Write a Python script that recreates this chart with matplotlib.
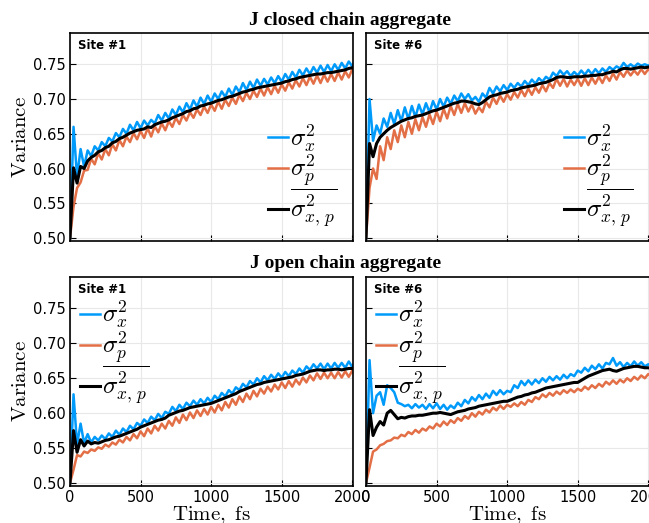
'''
Variance of x, p and mixed quadratures for J aggregates (closed / open chain)
'''

import matplotlib
matplotlib.use('Agg')
import matplotlib.pyplot as plt

plt.rcParams['mathtext.fontset'] = 'cm'

# time axis, fs (step 25 fs)
time_fs = list(range(0, 2026, 25))

# J closed chain, site 1
closed_s1_x = [
    0.500, 0.660, 0.588, 0.628, 0.603, 0.626, 0.618, 0.632, 0.626, 0.638,
    0.632, 0.644, 0.639, 0.651, 0.645, 0.657, 0.650, 0.663, 0.655, 0.667,
    0.658, 0.669, 0.662, 0.670, 0.665, 0.677, 0.669, 0.680, 0.672, 0.685,
    0.677, 0.689, 0.681, 0.694, 0.685, 0.698, 0.689, 0.702, 0.693, 0.705,
    0.696, 0.708, 0.700, 0.711, 0.703, 0.715, 0.706, 0.718, 0.710, 0.723,
    0.713, 0.725, 0.716, 0.728, 0.719, 0.729, 0.721, 0.731, 0.723, 0.733,
    0.725, 0.736, 0.728, 0.739, 0.731, 0.742, 0.734, 0.744, 0.736, 0.746,
    0.738, 0.748, 0.739, 0.749, 0.740, 0.750, 0.742, 0.752, 0.744, 0.754,
    0.747, 0.758]
closed_s1_p = [
    0.500, 0.545, 0.572, 0.580, 0.597, 0.598, 0.614, 0.606, 0.622, 0.613,
    0.628, 0.619, 0.635, 0.626, 0.641, 0.632, 0.646, 0.638, 0.651, 0.642,
    0.654, 0.644, 0.658, 0.646, 0.661, 0.652, 0.665, 0.655, 0.668, 0.660,
    0.673, 0.664, 0.677, 0.669, 0.681, 0.673, 0.685, 0.677, 0.689, 0.680,
    0.692, 0.683, 0.696, 0.686, 0.699, 0.690, 0.702, 0.693, 0.706, 0.697,
    0.709, 0.700, 0.712, 0.703, 0.715, 0.705, 0.717, 0.707, 0.719, 0.709,
    0.721, 0.712, 0.724, 0.715, 0.727, 0.718, 0.730, 0.720, 0.732, 0.722,
    0.734, 0.723, 0.735, 0.725, 0.736, 0.726, 0.738, 0.728, 0.740, 0.731,
    0.743, 0.734]
closed_s1_xp = [
    0.500, 0.601, 0.579, 0.603, 0.600, 0.611, 0.616, 0.619, 0.624, 0.626,
    0.630, 0.632, 0.637, 0.639, 0.643, 0.645, 0.648, 0.651, 0.653, 0.655,
    0.656, 0.657, 0.660, 0.659, 0.663, 0.665, 0.667, 0.668, 0.670, 0.673,
    0.675, 0.677, 0.679, 0.682, 0.683, 0.686, 0.687, 0.690, 0.691, 0.693,
    0.694, 0.696, 0.698, 0.699, 0.701, 0.703, 0.704, 0.706, 0.708, 0.710,
    0.711, 0.713, 0.714, 0.716, 0.717, 0.718, 0.719, 0.720, 0.721, 0.722,
    0.723, 0.725, 0.726, 0.728, 0.729, 0.731, 0.732, 0.733, 0.734, 0.735,
    0.736, 0.736, 0.737, 0.738, 0.738, 0.739, 0.740, 0.741, 0.742, 0.744,
    0.745, 0.746]

# J closed chain, site 6
closed_s6_x = [
    0.500, 0.700, 0.640, 0.662, 0.650, 0.672, 0.660, 0.680, 0.664, 0.684,
    0.668, 0.688, 0.671, 0.690, 0.674, 0.692, 0.678, 0.694, 0.681, 0.697,
    0.685, 0.700, 0.689, 0.702, 0.693, 0.705, 0.697, 0.708, 0.700, 0.707,
    0.698, 0.703, 0.696, 0.708, 0.702, 0.716, 0.708, 0.718, 0.711, 0.720,
    0.713, 0.722, 0.716, 0.723, 0.718, 0.726, 0.720, 0.728, 0.722, 0.730,
    0.725, 0.732, 0.728, 0.738, 0.733, 0.741, 0.735, 0.740, 0.733, 0.739,
    0.734, 0.741, 0.735, 0.742, 0.736, 0.743, 0.737, 0.744, 0.739, 0.746,
    0.742, 0.747, 0.744, 0.752, 0.746, 0.750, 0.746, 0.751, 0.748, 0.750,
    0.748, 0.751]
closed_s6_p = [
    0.500, 0.572, 0.600, 0.585, 0.632, 0.612, 0.645, 0.628, 0.655, 0.638,
    0.662, 0.645, 0.667, 0.650, 0.671, 0.655, 0.674, 0.660, 0.678, 0.664,
    0.682, 0.668, 0.686, 0.672, 0.690, 0.677, 0.693, 0.680, 0.694, 0.682,
    0.692, 0.679, 0.688, 0.681, 0.696, 0.688, 0.702, 0.693, 0.705, 0.696,
    0.707, 0.699, 0.710, 0.702, 0.713, 0.704, 0.715, 0.706, 0.717, 0.709,
    0.720, 0.711, 0.723, 0.716, 0.729, 0.719, 0.729, 0.718, 0.728, 0.720,
    0.729, 0.719, 0.730, 0.720, 0.731, 0.722, 0.732, 0.723, 0.734, 0.726,
    0.737, 0.728, 0.739, 0.732, 0.741, 0.734, 0.741, 0.735, 0.743, 0.736,
    0.743, 0.738]
closed_s6_xp = [
    0.500, 0.636, 0.617, 0.636, 0.645, 0.650, 0.655, 0.659, 0.662, 0.665,
    0.668, 0.670, 0.672, 0.673, 0.675, 0.676, 0.677, 0.679, 0.681, 0.683,
    0.684, 0.686, 0.688, 0.690, 0.692, 0.694, 0.695, 0.697, 0.697, 0.696,
    0.695, 0.693, 0.692, 0.695, 0.699, 0.703, 0.705, 0.706, 0.708, 0.709,
    0.710, 0.712, 0.713, 0.714, 0.716, 0.717, 0.718, 0.719, 0.720, 0.722,
    0.723, 0.724, 0.726, 0.728, 0.731, 0.732, 0.732, 0.731, 0.731, 0.732,
    0.732, 0.732, 0.733, 0.733, 0.734, 0.734, 0.735, 0.735, 0.737, 0.738,
    0.740, 0.739, 0.742, 0.744, 0.744, 0.743, 0.744, 0.745, 0.746, 0.745,
    0.746, 0.747]

# J open chain, site 1
open_s1_x = [
    0.500, 0.627, 0.555, 0.585, 0.557, 0.570, 0.558, 0.566, 0.561, 0.568,
    0.563, 0.571, 0.566, 0.575, 0.569, 0.578, 0.573, 0.582, 0.577, 0.586,
    0.582, 0.591, 0.586, 0.595, 0.590, 0.599, 0.593, 0.602, 0.599, 0.609,
    0.603, 0.612, 0.606, 0.615, 0.610, 0.618, 0.612, 0.620, 0.614, 0.622,
    0.616, 0.625, 0.620, 0.629, 0.624, 0.633, 0.628, 0.637, 0.633, 0.642,
    0.637, 0.646, 0.641, 0.650, 0.644, 0.653, 0.647, 0.655, 0.649, 0.657,
    0.651, 0.659, 0.653, 0.661, 0.656, 0.664, 0.658, 0.667, 0.662, 0.670,
    0.664, 0.671, 0.663, 0.671, 0.664, 0.672, 0.665, 0.672, 0.665, 0.674,
    0.666, 0.676]
open_s1_p = [
    0.500, 0.519, 0.540, 0.538, 0.545, 0.543, 0.548, 0.546, 0.551, 0.549,
    0.555, 0.552, 0.558, 0.555, 0.562, 0.558, 0.566, 0.561, 0.570, 0.564,
    0.574, 0.567, 0.578, 0.571, 0.582, 0.575, 0.585, 0.578, 0.589, 0.582,
    0.594, 0.586, 0.598, 0.590, 0.601, 0.593, 0.604, 0.596, 0.606, 0.598,
    0.609, 0.601, 0.612, 0.604, 0.616, 0.608, 0.620, 0.612, 0.624, 0.616,
    0.628, 0.620, 0.632, 0.624, 0.635, 0.628, 0.638, 0.631, 0.641, 0.634,
    0.644, 0.636, 0.646, 0.638, 0.648, 0.641, 0.651, 0.644, 0.654, 0.647,
    0.657, 0.649, 0.658, 0.650, 0.658, 0.650, 0.659, 0.651, 0.660, 0.652,
    0.661, 0.653]
open_s1_xp = [
    0.500, 0.575, 0.544, 0.562, 0.553, 0.560, 0.556, 0.558, 0.557, 0.559,
    0.561, 0.562, 0.564, 0.566, 0.567, 0.569, 0.571, 0.573, 0.575, 0.577,
    0.580, 0.582, 0.584, 0.586, 0.588, 0.590, 0.591, 0.593, 0.597, 0.599,
    0.601, 0.603, 0.604, 0.606, 0.608, 0.609, 0.610, 0.611, 0.612, 0.613,
    0.614, 0.616, 0.618, 0.620, 0.622, 0.624, 0.626, 0.628, 0.631, 0.633,
    0.635, 0.637, 0.639, 0.641, 0.642, 0.644, 0.645, 0.646, 0.647, 0.648,
    0.649, 0.650, 0.651, 0.652, 0.654, 0.655, 0.656, 0.658, 0.660, 0.661,
    0.662, 0.662, 0.661, 0.662, 0.662, 0.663, 0.663, 0.662, 0.663, 0.664,
    0.664, 0.665]

# J open chain, site 6
open_s6_x = [
    0.500, 0.676, 0.600, 0.625, 0.630, 0.612, 0.640, 0.636, 0.630, 0.615,
    0.613, 0.610, 0.612, 0.607, 0.613, 0.608, 0.612, 0.606, 0.613, 0.607,
    0.614, 0.606, 0.612, 0.605, 0.611, 0.607, 0.615, 0.610, 0.619, 0.614,
    0.623, 0.618, 0.626, 0.620, 0.628, 0.622, 0.632, 0.626, 0.633, 0.627,
    0.632, 0.630, 0.640, 0.636, 0.646, 0.640, 0.647, 0.641, 0.648, 0.643,
    0.650, 0.645, 0.652, 0.647, 0.653, 0.648, 0.655, 0.650, 0.656, 0.653,
    0.661, 0.658, 0.665, 0.660, 0.668, 0.663, 0.670, 0.664, 0.672, 0.670,
    0.679, 0.668, 0.673, 0.666, 0.672, 0.667, 0.674, 0.668, 0.673, 0.667,
    0.670, 0.667]
open_s6_p = [
    0.500, 0.522, 0.545, 0.548, 0.554, 0.556, 0.560, 0.561, 0.565, 0.564,
    0.569, 0.567, 0.573, 0.570, 0.576, 0.572, 0.578, 0.575, 0.581, 0.578,
    0.585, 0.581, 0.588, 0.583, 0.590, 0.586, 0.593, 0.589, 0.596, 0.592,
    0.600, 0.595, 0.602, 0.598, 0.605, 0.601, 0.608, 0.604, 0.611, 0.606,
    0.612, 0.609, 0.614, 0.610, 0.616, 0.612, 0.619, 0.616, 0.623, 0.620,
    0.627, 0.623, 0.629, 0.625, 0.631, 0.627, 0.633, 0.629, 0.634, 0.630,
    0.635, 0.632, 0.638, 0.634, 0.640, 0.636, 0.642, 0.638, 0.645, 0.641,
    0.647, 0.642, 0.648, 0.644, 0.650, 0.646, 0.652, 0.648, 0.654, 0.650,
    0.656, 0.652]
open_s6_xp = [
    0.500, 0.605, 0.568, 0.580, 0.588, 0.583, 0.600, 0.604, 0.598, 0.592,
    0.594, 0.593, 0.595, 0.596, 0.596, 0.597, 0.597, 0.598, 0.599, 0.600,
    0.600, 0.601, 0.600, 0.599, 0.598, 0.600, 0.602, 0.603, 0.604, 0.606,
    0.607, 0.608, 0.610, 0.611, 0.612, 0.613, 0.614, 0.615, 0.616, 0.617,
    0.617, 0.619, 0.621, 0.623, 0.624, 0.626, 0.627, 0.629, 0.630, 0.632,
    0.634, 0.636, 0.637, 0.638, 0.639, 0.640, 0.641, 0.642, 0.643, 0.644,
    0.644, 0.647, 0.650, 0.653, 0.655, 0.657, 0.659, 0.661, 0.662, 0.663,
    0.661, 0.660, 0.662, 0.664, 0.665, 0.666, 0.667, 0.667, 0.666, 0.665,
    0.665, 0.664]

site_labels = ['Site #1', 'Site #6', 'Site #1', 'Site #6']
titles = ['J closed chain aggregate', 'J open chain aggregate']
legend_labels = [r'$\sigma^2_x$', r'$\sigma^2_p$', r'$\overline{\sigma^2_{x,\,p}}$']

BLUE = '#009AFA'
ORANGE = '#E36F47'

W, H = 649.0, 523.0
fig = plt.figure(figsize=(6.49, 5.23), dpi=100)


def add_panel(x0, y0, x1, y1):
    return fig.add_axes([x0 / W, 1 - y1 / H, (x1 - x0) / W, (y1 - y0) / H])


def draw_panel(ax, xs, ps, xps, site, leg_anchor, left, bottom):
    for s in (xs, ps, xps):
        assert len(s) == len(time_fs)
    ax.plot(time_fs, xs, color=BLUE, lw=1.8, label=legend_labels[0])
    ax.plot(time_fs, ps, color=ORANGE, lw=1.8, label=legend_labels[1])
    ax.plot(time_fs, xps, color='black', lw=2.2, label=legend_labels[2])
    ax.set_xlim(0, 2005)
    ax.set_ylim(0.4957, 0.795)
    ax.set_xticks([0, 500, 1000, 1500, 2000])
    ax.set_yticks([0.50, 0.55, 0.60, 0.65, 0.70, 0.75])
    ax.grid(True, color='#e8e8e8', lw=0.8)
    ax.set_axisbelow(True)
    for sp in ax.spines.values():
        sp.set_linewidth(1.2)
    ax.tick_params(direction='in', length=4, width=0.8, labelsize=10.5, pad=3)
    if left:
        ax.set_yticklabels(['0.50', '0.55', '0.60', '0.65', '0.70', '0.75'])
        ax.set_ylabel(r'$\mathrm{Variance}$', fontsize=15, labelpad=2)
    else:
        ax.set_yticklabels([])
        ax.spines['right'].set_visible(False)
    if bottom:
        ax.set_xlabel(r'$\mathrm{Time,\ fs}$', fontsize=15, labelpad=-1)
    else:
        ax.set_xticklabels([])
    ax.text(0.028, 0.94, site, transform=ax.transAxes, fontsize=8.5,
            fontweight='bold', va='center', ha='left')
    ax.legend(loc='center left', bbox_to_anchor=leg_anchor, frameon=False,
              fontsize=18, handlelength=0.8, handletextpad=0.08,
              labelspacing=-0.08, borderpad=0, borderaxespad=0)


ax_tl = add_panel(70, 33, 353, 241)
ax_tr = add_panel(366, 33, 649, 241)
ax_bl = add_panel(70, 277, 353, 486)
ax_br = add_panel(366, 277, 649, 486)

draw_panel(ax_tl, closed_s1_x, closed_s1_p, closed_s1_xp, site_labels[0], (0.70, 0.31), True, False)
draw_panel(ax_tr, closed_s6_x, closed_s6_p, closed_s6_xp, site_labels[1], (0.70, 0.31), False, False)
draw_panel(ax_bl, open_s1_x, open_s1_p, open_s1_xp, site_labels[2], (0.035, 0.635), True, True)
draw_panel(ax_br, open_s6_x, open_s6_p, open_s6_xp, site_labels[3], (0.035, 0.635), False, True)

fig.text(350 / W, 1 - 25 / H, titles[0], ha='center', va='baseline', fontsize=14,
         fontweight='bold', family='Liberation Serif')
fig.text(346 / W, 1 - 268 / H, titles[1], ha='center', va='baseline', fontsize=14,
         fontweight='bold', family='Liberation Serif')

fig.savefig('out.png', dpi=100)
